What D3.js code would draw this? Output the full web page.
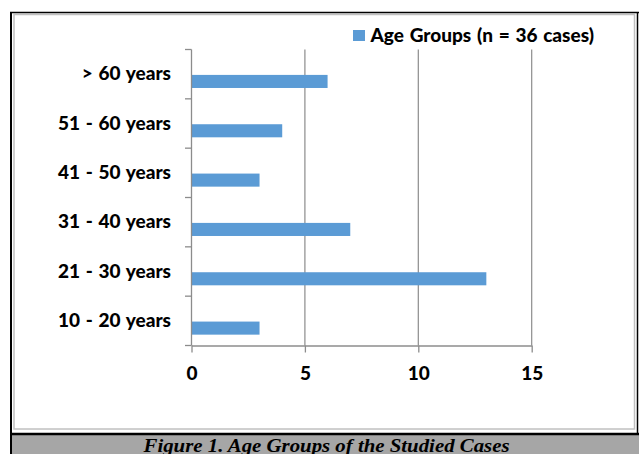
<!DOCTYPE html>
<html>
<head>
<meta charset="utf-8">
<script src="https://cdn.jsdelivr.net/npm/d3@7"></script>
<style>
  html, body { margin: 0; padding: 0; background: #fff; }
  svg { display: block; }
</style>
</head>
<body>
<div id="chart"></div>
<script>
// Age groups, listed top to bottom as they appear on the vertical axis
const categories = ["> 60 years", "51 - 60 years", "41 - 50 years", "31 - 40 years", "21 - 30 years", "10 - 20 years"];
const cases = [6, 4, 3, 7, 13, 3];
const xTicks = [0, 5, 10, 15];
const seriesName = "Age Groups (n = 36 cases)";
const caption = "Figure 1. Age Groups of the Studied Cases";

const W = 639, H = 454;
const plot = { left: 191.5, right: 531.7, top: 49.5, bottom: 345.5 };
const labelFont = "Lato, 'Open Sans', sans-serif";
const labelSize = 19;
const barColor = "#5b9bd5";
const axisColor = "#8c8c8c";

const svg = d3.select("#chart").append("svg")
  .attr("width", W).attr("height", H);

// Outer frame: caption band, black rules, light inner chart border
svg.append("rect").attr("x", 12).attr("y", 435).attr("width", W - 12).attr("height", H - 435)
  .attr("fill", "#a6a6a6");
svg.append("rect").attr("x", 14).attr("y", 14.5).attr("width", 620.5).attr("height", 414.5)
  .attr("fill", "none").attr("stroke", "#c0c0c0").attr("stroke-width", 1.5);
svg.append("line").attr("x1", 10).attr("x2", W).attr("y1", 12.5).attr("y2", 12.5)
  .attr("stroke", "#000").attr("stroke-width", 1.5);
svg.append("line").attr("x1", 11).attr("x2", 11).attr("y1", 12).attr("y2", H)
  .attr("stroke", "#000").attr("stroke-width", 2);
svg.append("line").attr("x1", 637.5).attr("x2", 637.5).attr("y1", 12).attr("y2", 434)
  .attr("stroke", "#000").attr("stroke-width", 1.5);
svg.append("line").attr("x1", 10).attr("x2", W).attr("y1", 434).attr("y2", 434)
  .attr("stroke", "#000").attr("stroke-width", 2.5);

svg.append("text")
  .attr("x", 326.5).attr("y", 451.5)
  .attr("text-anchor", "middle")
  .attr("font-family", "'Liberation Serif', 'DejaVu Serif', serif")
  .attr("font-weight", "bold").attr("font-style", "italic")
  .attr("font-size", 18)
  .attr("textLength", 366).attr("lengthAdjust", "spacingAndGlyphs")
  .attr("fill", "#000")
  .text(caption);

// Scales
const x = d3.scaleLinear().domain([0, 15]).range([plot.left, plot.right]);
const y = d3.scaleBand().domain(categories).range([plot.top, plot.bottom]).padding(0);

// Vertical gridlines
svg.append("g").selectAll("line")
  .data(xTicks.filter(d => d > 0))
  .join("line")
  .attr("x1", d => x(d)).attr("x2", d => x(d))
  .attr("y1", plot.top).attr("y2", plot.bottom)
  .attr("stroke", axisColor).attr("stroke-width", 1.2);

// Bars
svg.append("g").selectAll("rect")
  .data(categories.map((c, i) => ({ c, v: cases[i] })))
  .join("rect")
  .attr("x", x(0))
  .attr("y", d => y(d.c) + y.bandwidth() * 0.515)
  .attr("width", d => x(d.v) - x(0))
  .attr("height", y.bandwidth() * 0.265)
  .attr("fill", barColor);

// X axis
const xAxis = svg.append("g")
  .attr("transform", `translate(0,${plot.bottom})`)
  .call(d3.axisBottom(x).tickValues(xTicks).tickSize(7).tickSizeOuter(0).tickPadding(14));
xAxis.select(".domain").attr("stroke", axisColor).attr("stroke-width", 1.3);
xAxis.selectAll(".tick line").attr("stroke", axisColor).attr("stroke-width", 1.3);
xAxis.selectAll(".tick text")
  .attr("font-family", labelFont).attr("font-weight", "900")
  .attr("font-size", labelSize).attr("fill", "#000");

// Y axis: category labels centred in each band, ticks on band boundaries
const yAxis = svg.append("g")
  .attr("transform", `translate(${plot.left},0)`)
  .call(d3.axisLeft(y).tickSize(0).tickPadding(20.5));
yAxis.select(".domain").remove();
yAxis.selectAll(".tick text")
  .attr("font-family", labelFont).attr("font-weight", "900")
  .attr("font-size", labelSize).attr("word-spacing", 1.2).attr("fill", "#000");

svg.append("line")
  .attr("x1", plot.left).attr("x2", plot.left)
  .attr("y1", plot.top).attr("y2", plot.bottom)
  .attr("stroke", axisColor).attr("stroke-width", 1.3);
const bounds = categories.map(c => y(c)).concat([plot.bottom]);
svg.append("g").selectAll("line")
  .data(bounds)
  .join("line")
  .attr("x1", plot.left - 6.5).attr("x2", plot.left)
  .attr("y1", d => d).attr("y2", d => d)
  .attr("stroke", axisColor).attr("stroke-width", 1.3);

// Legend
const legend = svg.append("g").attr("transform", "translate(353,30)");
legend.append("rect").attr("width", 12).attr("height", 11).attr("fill", barColor);
legend.append("text")
  .attr("x", 17.5).attr("y", 11.5)
  .attr("font-family", labelFont).attr("font-weight", "900")
  .attr("font-size", labelSize).attr("word-spacing", 1.2).attr("fill", "#000")
  .text(seriesName);
</script>
</body>
</html>
